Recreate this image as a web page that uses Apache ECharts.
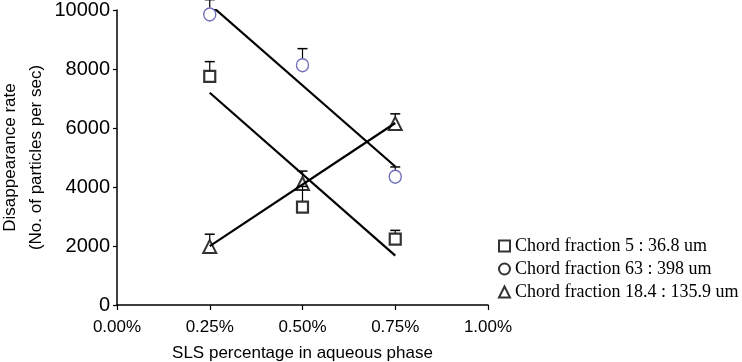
<!DOCTYPE html>
<html>
<head>
<meta charset="utf-8">
<script src="https://cdn.jsdelivr.net/npm/echarts@6/dist/echarts.min.js"></script>
<style>
  html, body { margin: 0; padding: 0; background: #fff; }
  #chart { width: 742px; height: 362px; }
</style>
</head>
<body>
<div id="chart"></div>
<script>
// SLS concentration (%) on x, disappearance rate on y
const slsPercent = [0.25, 0.5, 0.75];

const fraction5 = [7750, 3320, 2230];
const fraction5Err = [500, 700, 300];

const fraction63 = [9850, 8130, 4350];
const fraction63Err = [500, 560, 330];

const fraction18 = [1980, 4120, 6150];
const fraction18Err = [420, 420, 330];

const legendNames = [
  'Chord fraction 5 : 36.8 um',
  'Chord fraction 63 : 398 um',
  'Chord fraction 18.4 : 135.9 um'
];

const circleColor = '#4a4aa8';

// least squares line, evaluated at first and last x
function trend(xs, ys) {
  const n = xs.length;
  const mx = xs.reduce((a, b) => a + b, 0) / n;
  const my = ys.reduce((a, b) => a + b, 0) / n;
  let num = 0, den = 0;
  for (let i = 0; i < n; i++) {
    num += (xs[i] - mx) * (ys[i] - my);
    den += (xs[i] - mx) * (xs[i] - mx);
  }
  const k = num / den;
  const b = my - k * mx;
  return [xs[0], xs[n - 1]].map(x => [x, k * x + b]);
}

// upward-only error bars with a small cap
function errorBars(id, values, errs, gap) {
  return {
    type: 'custom',
    name: id,
    silent: true,
    z: 3,
    data: slsPercent.map((x, i) => [x, values[i], values[i] + errs[i]]),
    renderItem: (params, api) => {
      const base = api.coord([api.value(0), api.value(1)]);
      const top = api.coord([api.value(0), api.value(2)]);
      return {
        type: 'group',
        children: [
          { type: 'line', shape: { x1: base[0], y1: base[1] - gap, x2: base[0], y2: top[1] },
            style: { stroke: '#000', lineWidth: 1.2 } },
          { type: 'line', shape: { x1: top[0] - 5, y1: top[1], x2: top[0] + 5, y2: top[1] },
            style: { stroke: '#000', lineWidth: 1.5 } }
        ]
      };
    }
  };
}

function trendLine(id, values) {
  return {
    type: 'line',
    name: id,
    silent: true,
    z: 2,
    showSymbol: false,
    data: trend(slsPercent, values),
    lineStyle: { color: '#000', width: 2.2 }
  };
}

const chart = echarts.init(document.getElementById('chart'));

chart.setOption({
  animation: false,
  backgroundColor: '#fff',
  grid: { left: 117, right: 254, top: 10, bottom: 57, outerBoundsMode: 'none' },
  legend: {
    orient: 'vertical',
    left: 493,
    top: 232,
    itemWidth: 11,
    itemHeight: 11,
    itemGap: 5,
    textStyle: { fontFamily: 'Liberation Serif', fontSize: 18, color: '#000' },
    data: [
      { name: legendNames[0], icon: 'rect', itemStyle: { color: '#fff', borderColor: '#000', borderWidth: 2 } },
      { name: legendNames[1], icon: 'circle', itemStyle: { color: '#fff', borderColor: '#000', borderWidth: 2 } },
      { name: legendNames[2], icon: 'triangle', itemStyle: { color: '#fff', borderColor: '#000', borderWidth: 2 } }
    ]
  },
  xAxis: {
    type: 'value',
    min: 0,
    max: 1,
    interval: 0.25,
    name: 'SLS percentage in aqueous phase',
    nameLocation: 'middle',
    nameGap: 40,
    nameTextStyle: { fontFamily: 'Arial', fontSize: 17, color: '#000' },
    axisLine: { lineStyle: { color: '#000', width: 1.5 } },
    axisTick: { show: true, length: 5, lineStyle: { color: '#000', width: 1.2 } },
    axisLabel: {
      fontFamily: 'Arial', fontSize: 17, color: '#000', margin: 14,
      formatter: v => v.toFixed(2) + '%'
    },
    splitLine: { show: false }
  },
  yAxis: {
    type: 'value',
    min: 0,
    max: 10000,
    interval: 2000,
    name: 'Disappearance rate\n(No. of particles per sec)',
    nameLocation: 'middle',
    nameRotate: 90,
    nameGap: 68,
    nameTextStyle: { fontFamily: 'Arial', fontSize: 17, color: '#000', lineHeight: 26 },
    axisLine: { show: true, lineStyle: { color: '#000', width: 1.5 } },
    axisTick: { show: true, length: 4, lineStyle: { color: '#000', width: 1.2 } },
    axisLabel: {
      fontFamily: 'Arial', fontSize: 20, color: '#000', margin: 7,
      formatter: v => String(v)
    },
    splitLine: { show: false }
  },
  series: [
    trendLine('trend5', fraction5),
    trendLine('trend63', fraction63),
    trendLine('trend18', fraction18),
    errorBars('err5', fraction5, fraction5Err, 6),
    errorBars('err63', fraction63, fraction63Err, 7),
    errorBars('err18', fraction18, fraction18Err, 7),
    {
      type: 'scatter',
      name: legendNames[0],
      z: 4,
      symbol: 'rect',
      symbolSize: 11,
      data: slsPercent.map((x, i) => [x, fraction5[i]]),
      itemStyle: { color: 'rgba(255,255,255,0)', borderColor: '#000', borderWidth: 2.2 }
    },
    {
      type: 'scatter',
      name: legendNames[1],
      z: 4,
      symbol: 'circle',
      symbolSize: [12, 13],
      data: slsPercent.map((x, i) => [x, fraction63[i]]),
      itemStyle: { color: 'rgba(255,255,255,0)', borderColor: circleColor, borderWidth: 1.4 }
    },
    {
      type: 'scatter',
      name: legendNames[2],
      z: 4,
      symbol: 'triangle',
      symbolSize: 13,
      data: slsPercent.map((x, i) => [x, fraction18[i]]),
      itemStyle: { color: 'rgba(255,255,255,0)', borderColor: '#000', borderWidth: 2 }
    }
  ]
});
</script>
</body>
</html>
